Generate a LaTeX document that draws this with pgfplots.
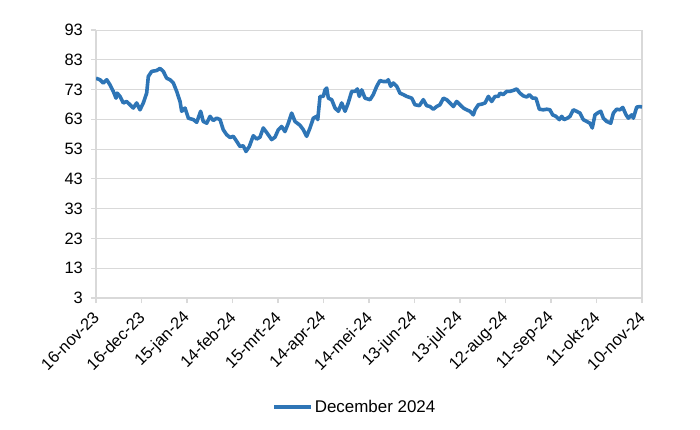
\documentclass[border=0pt]{standalone}
\usepackage{fontspec}
\setmainfont{Liberation Sans}
\usepackage{pgfplots}
\pgfplotsset{compat=1.18}

\definecolor{lineblue}{HTML}{2E75B6}
\definecolor{gridgray}{HTML}{D9D9D9}

\begin{document}
\begin{tikzpicture}
\begin{axis}[
    scale only axis,
    width=546bp, height=268bp,
    xmin=0, xmax=360,
    ymin=3, ymax=93,
    ytick={3,13,...,93},
    xtick={0,30,...,360},
    xticklabels={16-nov-23,16-dec-23,15-jan-24,14-feb-24,15-mrt-24,14-apr-24,
                 14-mei-24,13-jun-24,13-jul-24,12-aug-24,11-sep-24,11-okt-24,10-nov-24},
    axis x line=bottom,
    axis y line=box,
    ytick pos=left,
    x axis line style={-, line width=1.8bp, draw=gridgray},
    y axis line style={-, line width=1.5bp, draw=gridgray},
    tick align=outside,
    major tick length=5bp,
    tick style={gridgray, line width=1.2bp},
    ymajorgrids,
    grid style={gridgray, line width=1bp},
    /pgf/number format/assume math mode=true,
    tick label style={font=\fontsize{16.5}{19}\selectfont, text=black},
    xticklabel style={yshift=-11bp, xshift=1bp, rotate=45, anchor=east, inner sep=1bp},
    yticklabel style={xshift=-6bp, inner sep=2bp},
    legend style={at={(0.474,-0.407)}, anchor=center, draw=none, fill=none,
                  font=\fontsize{17}{20}\selectfont},
    legend image code/.code={\draw[#1, line width=3.5bp] (0bp,0bp) -- (37bp,0bp);},
    legend cell align=left,
]
\addplot[lineblue, line width=3.6bp, line join=round] coordinates {
(0,76.8) (2.6,76.3) (4.8,75.2) (7.1,76.3) (9.2,74.6) (11.4,72.4) (13.2,70.1) (14.0,71.8)
(15.8,70.7) (18.0,68.5) (20.2,69.0) (22.4,67.9) (24.6,66.8) (26.8,68.5) (29.0,66.2)
(31.2,68.5) (33.4,71.8) (34.5,77.4) (36.7,79.1) (40.0,79.4) (42.2,80.1) (44.4,79.1)
(46.6,76.8) (48.8,76.3) (51.0,75.2) (53.2,72.4) (55.4,69.0) (56.5,65.7) (58.7,66.8)
(60.9,63.4) (64.2,62.9) (66.4,62.0) (69.0,65.7) (70.7,62.3) (73.0,61.7) (75.2,64.0)
(77.3,62.6) (79.6,63.4) (81.8,62.9) (83.9,59.5) (86.2,57.8) (88.4,56.9) (90.5,57.3)
(92.8,55.6) (94.9,53.9) (97.1,54.1) (98.9,52.2) (101.1,53.9) (103.7,57.5) (106.0,56.4)
(108.1,57.0) (110.3,60.1) (112.5,58.6) (115.8,56.2) (118.0,57.0) (120.2,59.5) (122.4,60.6)
(124.6,58.9) (126.8,61.7) (129.0,65.1) (131.2,62.3) (134.5,61.0) (136.7,59.5) (138.9,57.3)
(141.1,60.1) (143.3,63.4) (145.5,64.0) (146.2,62.9) (147.7,70.7) (149.9,70.7) (151.0,72.9)
(152.1,73.5) (153.2,70.1) (155.4,69.6) (157.6,66.8) (159.8,65.7) (162.0,68.5) (164.2,65.7)
(166.3,68.5) (168.6,72.4) (170.8,72.4) (172.3,73.2) (173.6,70.7) (175.2,72.9) (177.4,70.1)
(180.7,69.6) (182.8,71.3) (185.1,74.1) (187.2,76.0) (189.4,75.7) (191.7,75.7) (192.7,76.3)
(194.3,74.1) (196.0,75.2) (198.3,74.1) (200.4,71.8) (202.6,71.3) (204.9,70.7) (208.2,70.1)
(210.3,67.9) (213.2,67.6) (215.8,69.6) (218.0,67.6) (220.2,67.3) (222.4,66.4) (224.6,67.3)
(226.8,67.9) (229.0,70.1) (231.2,69.6) (233.4,68.5) (235.6,67.3) (237.8,69.0) (240.0,67.9)
(242.2,66.8) (244.4,66.2) (246.6,65.7) (248.8,64.5) (249.9,66.2) (252.1,67.9) (254.3,68.1)
(256.5,68.5) (258.7,70.7) (260.9,69.0) (263.1,70.7) (265.3,70.7) (266.4,71.8) (268.5,71.3)
(270.8,72.4) (273.0,72.4) (275.1,72.7) (277.4,73.2) (279.5,71.8) (281.7,70.9) (284.0,70.5)
(285.7,71.3) (287.9,70.1) (290.1,70.1) (292.3,66.4) (294.9,66.2) (297.2,66.4) (299.3,66.2)
(301.1,64.5) (303.3,64.0) (305.5,62.9) (307.1,64.0) (308.6,62.9) (310.8,63.4) (312.5,64.0)
(314.7,66.2) (316.9,65.7) (319.1,65.1) (321.3,62.9) (323.5,62.3) (325.7,61.7) (327.2,60.1)
(329.0,64.5) (331.2,65.3) (332.8,65.7) (334.5,63.4) (336.7,62.3) (339.4,61.7) (341.1,65.1)
(343.3,66.4) (345.5,66.2) (347.3,67.0) (349.5,64.5) (351.0,63.4) (353.2,64.5) (354.3,63.4)
(356.5,67.1) (358.7,67.3) (360,67.1)
};
\addlegendentry{December 2024}
\end{axis}
\path (current axis.south west) ++(-96bp,-132bp) rectangle ++(700bp,430bp);
\end{tikzpicture}
\end{document}
